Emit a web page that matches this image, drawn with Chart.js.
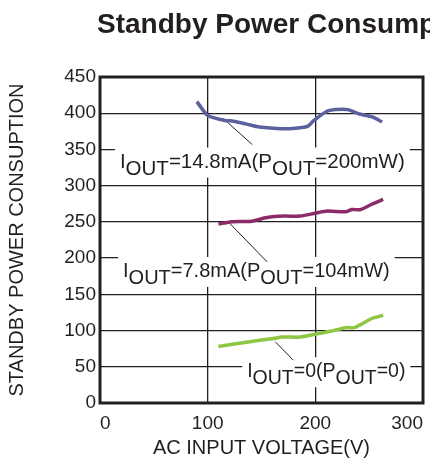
<!DOCTYPE html>
<html>
<head>
<meta charset="utf-8">
<script src="https://cdn.jsdelivr.net/npm/chart.js@4.4.1/dist/chart.umd.min.js"></script>
<style>
  html, body { margin: 0; padding: 0; background: #fff; }
  #wrap { width: 430px; height: 461px; position: relative; }
</style>
</head>
<body>
<div id="wrap"><canvas id="chart"></canvas></div>
<script>
// values
const xTicks = [0, 100, 200, 300];
const yTicks = [0, 50, 100, 150, 200, 250, 300, 350, 400, 450];

const hiVolts = [90, 99, 103, 116, 124, 136, 148, 164, 179, 193, 198, 210, 219, 230, 241, 253, 262];
const hiPower = [416, 398, 395, 390, 389, 385, 381, 379, 379, 382, 389, 402, 405, 405, 399, 395, 388];

const midVolts = [110, 121, 141, 155, 171, 186, 200, 211, 228, 234, 242, 252, 263];
const midPower = [247, 250, 251, 256, 258, 258, 262, 265, 264, 267, 267, 274, 281];

const zeroVolts = [110, 136, 161, 169, 186, 200, 214, 228, 236, 253, 263];
const zeroPower = [78, 84, 89, 91, 91, 95, 99, 104, 104, 117, 121];

// callout text, pieces flagged 1 are subscript
const hiLabel = [['I', 0], ['OUT', 1], ['=14.8mA(P', 0], ['OUT', 1], ['=200mW)', 0]];
const midLabel = [['I', 0], ['OUT', 1], ['=7.8mA(P', 0], ['OUT', 1], ['=104mW)', 0]];
const zeroLabel = [['I', 0], ['OUT', 1], ['=0(P', 0], ['OUT', 1], ['=0)', 0]];

const FONT = '"Liberation Sans", Arial, Helvetica, sans-serif';
const INK = '#231f20';

function pts(xs, ys) {
    return xs.map((x, i) => ({ x: x, y: ys[i] }));
}

// callouts placed in data units: text start, baseline, leader line from curve to label
const callouts = [
    { parts: hiLabel, size: 20.5, x: 18.5, y: 325, from: [114.4, 392.8], to: [141.4, 356.7] },
    { parts: midLabel, size: 20, x: 21.4, y: 174, from: [119, 250.2], to: [155.3, 194.7] },
    { parts: zeroLabel, size: 19.5, x: 136.7, y: 35.6, from: [162.8, 84.5], to: [179.5, 59.1] }
];

const calloutPlugin = {
    id: 'callouts',
    beforeDatasetsDraw(chart) {
        const ctx = chart.ctx;
        const sx = chart.scales.x, sy = chart.scales.y;
        ctx.save();
        ctx.textBaseline = 'alphabetic';
        callouts.forEach(c => {
            ctx.font = c.size + 'px ' + FONT;
            const x0 = sx.getPixelForValue(c.x);
            const base = sy.getPixelForValue(c.y);
            const w = c.parts.reduce((s, p) => s + ctx.measureText(p[0]).width, 0);
            ctx.fillStyle = '#fff';
            ctx.fillRect(x0 - 5, base - 20, w + 10, 30);
            let x = x0;
            ctx.fillStyle = INK;
            c.parts.forEach(p => {
                ctx.fillText(p[0], x, base + (p[1] ? 7 : 0));
                x += ctx.measureText(p[0]).width;
            });
            ctx.strokeStyle = INK;
            ctx.lineWidth = 1;
            ctx.beginPath();
            ctx.moveTo(sx.getPixelForValue(c.from[0]), sy.getPixelForValue(c.from[1]));
            ctx.lineTo(sx.getPixelForValue(c.to[0]), sy.getPixelForValue(c.to[1]));
            ctx.stroke();
        });
        ctx.restore();
    },
    afterDraw(chart) {
        const ctx = chart.ctx;
        const a = chart.chartArea;
        ctx.save();
        ctx.strokeStyle = INK;
        ctx.lineWidth = 3;
        ctx.strokeRect(a.left, a.top, a.right - a.left, a.bottom - a.top);
        // heading, cut off at the right edge like the reference
        ctx.fillStyle = INK;
        ctx.font = 'bold 28px ' + FONT;
        ctx.textBaseline = 'alphabetic';
        ctx.fillText('Standby Power Consumption', 97, 33);
        ctx.restore();
    }
};

const lineStyle = { borderWidth: 3.5, pointRadius: 0, tension: 0.25, fill: false };

new Chart(document.getElementById('chart'), {
    type: 'line',
    data: {
        datasets: [
            Object.assign({ label: 'IOUT=14.8mA', data: pts(hiVolts, hiPower), borderColor: '#5b619f' }, lineStyle),
            Object.assign({ label: 'IOUT=7.8mA', data: pts(midVolts, midPower), borderColor: '#8b2c69' }, lineStyle),
            Object.assign({ label: 'IOUT=0', data: pts(zeroVolts, zeroPower), borderColor: '#8dc641' }, lineStyle)
        ]
    },
    options: {
        responsive: true,
        maintainAspectRatio: false,
        animation: false,
        layout: { padding: { left: 0, right: 7, top: 77, bottom: 0 } },
        plugins: {
            legend: { display: false },
            tooltip: { enabled: false }
        },
        scales: {
            x: {
                type: 'linear',
                min: 0,
                max: 300,
                afterBuildTicks: s => { s.ticks = xTicks.map(v => ({ value: v })); },
                afterFit: s => { s.height = 58; s.paddingLeft = 0; s.paddingRight = 0; },
                grid: { color: INK, lineWidth: 1.3, drawTicks: false },
                border: { display: false },
                ticks: { color: INK, font: { family: FONT, size: 19 }, padding: 9, align: 'inner' },
                title: { display: true, text: 'AC INPUT VOLTAGE(V)', color: INK, font: { family: FONT, size: 20 }, padding: { top: 0, bottom: 1 } }
            },
            y: {
                type: 'linear',
                min: 0,
                max: 450,
                afterBuildTicks: s => { s.ticks = yTicks.map(v => ({ value: v })); },
                afterFit: s => { s.width = 100; },
                grid: { color: INK, lineWidth: 1.3, drawTicks: false },
                border: { display: false },
                ticks: { color: INK, font: { family: FONT, size: 19 }, padding: 4 },
                title: { display: true, text: 'STANDBY POWER CONSUPTION', color: INK, font: { family: FONT, size: 20 }, padding: { top: 5, bottom: 0 } }
            }
        }
    },
    plugins: [calloutPlugin]
});
</script>
</body>
</html>
